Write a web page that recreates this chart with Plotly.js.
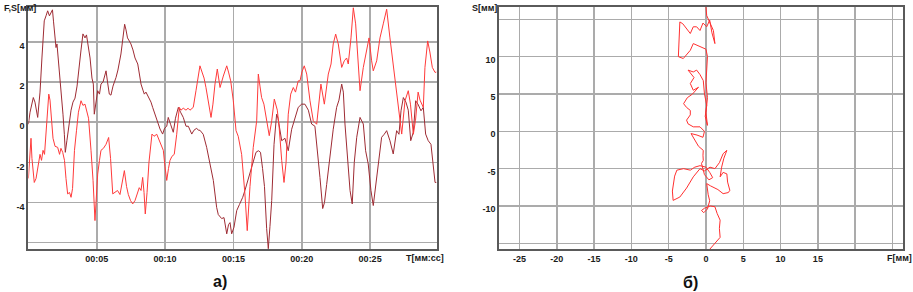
<!DOCTYPE html>
<html>
<head>
<meta charset="utf-8">
<script src="https://cdn.plot.ly/plotly-3.0.1.min.js"></script>
<style>html,body{margin:0;padding:0;background:#fff;}#chart{width:913px;height:292px;}</style>
</head>
<body>
<div id="chart"></div>
<script>
// Panel а): two time series [time s, value mm]
const seriesDark = [[0.0,-0.1],[0.12,0.5],[0.36,1.23],[0.48,1.0],[0.68,0.24],[0.85,1.5],[0.99,3.2],[1.16,5.05],[1.29,5.3],[1.41,5.55],[1.54,5.3],[1.65,5.5],[1.76,5.6],[1.84,5.0],[1.95,4.3],[2.02,3.72],[2.09,3.9],[2.20,3.0],[2.31,2.2],[2.44,1.42],[2.53,0.4],[2.63,-0.6],[2.70,-1.5],[2.82,-0.9],[2.97,-0.1],[3.12,0.6],[3.26,1.0],[3.41,1.2],[3.56,1.8],[3.70,2.8],[3.85,3.6],[3.99,4.4],[4.14,4.2],[4.25,4.35],[4.36,3.9],[4.51,3.2],[4.65,2.2],[4.75,1.9],[4.82,0.4],[4.95,1.0],[5.07,1.57],[5.20,1.4],[5.31,1.9],[5.46,2.0],[5.68,2.56],[5.79,2.0],[5.92,1.4],[6.04,1.35],[6.19,1.8],[6.41,2.23],[6.55,2.6],[6.77,3.4],[6.91,4.2],[7.04,4.88],[7.14,4.6],[7.25,4.2],[7.38,4.05],[7.50,3.9],[7.65,3.6],[7.80,3.2],[8.00,2.9],[8.13,2.4],[8.24,1.9],[8.38,1.6],[8.48,1.4],[8.60,1.5],[8.75,1.3],[8.84,1.23],[8.97,1.0],[9.09,0.74],[9.26,0.4],[9.46,-0.09],[9.63,-0.34],[9.82,-0.59],[9.96,-0.3],[10.12,-0.2],[10.23,0.24],[10.40,-0.1],[10.60,-0.5],[10.76,0.2],[10.97,0.74],[11.13,0.5],[11.33,0.24],[11.53,-0.2],[11.70,-0.2],[11.95,-0.59],[12.11,-0.4],[12.31,-0.3],[12.44,-0.4],[12.55,-0.4],[12.79,-0.6],[13.04,-1.25],[13.28,-2.08],[13.53,-2.9],[13.77,-4.24],[13.89,-4.6],[14.14,-4.8],[14.31,-4.75],[14.51,-5.56],[14.64,-5.1],[14.75,-5.0],[14.87,-5.56],[15.04,-5.23],[15.24,-4.4],[15.44,-4.1],[15.68,-3.74],[15.84,-3.4],[16.01,-3.0],[16.21,-2.6],[16.45,-1.9],[16.65,-1.5],[16.82,-1.42],[16.98,-1.5],[17.13,-2.3],[17.27,-3.2],[17.43,-5.3],[17.55,-6.3],[17.67,-5.2],[17.80,-3.9],[17.97,-1.1],[18.16,0.4],[18.26,0.2],[18.40,-0.5],[18.53,-0.92],[18.77,-0.8],[19.01,-1.42],[19.26,-0.35],[19.50,0.24],[19.74,0.74],[19.99,0.9],[20.23,0.9],[20.48,0.6],[20.72,-0.09],[20.96,-0.2],[21.16,-1.42],[21.33,-2.75],[21.53,-4.3],[21.66,-4.0],[21.82,-3.1],[22.06,-1.58],[22.30,-0.35],[22.55,0.74],[22.72,1.1],[22.92,1.9],[23.04,1.5],[23.16,-0.09],[23.36,-1.75],[23.53,-3.4],[23.69,-4.07],[23.84,-2.0],[24.02,-0.75],[24.26,0.24],[24.50,-0.09],[24.67,-1.42],[24.86,-2.08],[25.06,-3.4],[25.23,-4.15],[25.41,-3.1],[25.60,-1.9],[25.84,-0.75],[26.03,-0.6],[26.21,-0.42],[26.45,-0.92],[26.69,-1.58],[26.94,-0.42],[27.11,-0.6],[27.26,0.57],[27.43,1.23],[27.62,1.0],[27.79,0.6],[27.97,-0.92],[28.16,-0.5],[28.33,1.07],[28.50,0.9],[28.72,0.57],[28.89,0.74],[29.06,-0.59],[29.25,-0.92],[29.45,-1.1],[29.60,-2.25],[29.75,-3.0],[29.85,-3.0]];

const seriesBright = [[0.0,-2.8],[0.12,-1.5],[0.19,-0.8],[0.26,-1.8],[0.43,-3.0],[0.56,-2.8],[0.70,-2.2],[0.85,-1.6],[0.96,-1.9],[1.07,-1.4],[1.18,-1.6],[1.29,-0.5],[1.40,0.8],[1.49,1.4],[1.58,1.1],[1.69,0.2],[1.80,-0.8],[1.95,-1.2],[2.14,-1.25],[2.28,-1.6],[2.38,-1.3],[2.51,-1.5],[2.64,-1.9],[2.75,-2.8],[2.87,-3.57],[3.01,-3.5],[3.12,-3.74],[3.23,-3.3],[3.37,-1.4],[3.52,-0.4],[3.66,0.5],[3.85,1.07],[3.99,0.84],[4.14,0.9],[4.26,0.6],[4.40,0.2],[4.58,-1.4],[4.73,-2.9],[4.87,-4.9],[4.98,-3.5],[5.07,-2.58],[5.20,-1.9],[5.31,-1.4],[5.49,-1.3],[5.68,-1.1],[5.87,-0.76],[6.01,-1.8],[6.17,-3.57],[6.33,-3.5],[6.52,-3.4],[6.70,-3.6],[6.88,-2.8],[7.02,-2.41],[7.18,-3.2],[7.31,-3.6],[7.47,-3.9],[7.63,-4.07],[7.80,-3.9],[7.94,-3.6],[8.11,-3.26],[8.24,-3.4],[8.36,-2.75],[8.46,-3.5],[8.55,-4.57],[8.68,-3.5],[8.82,-2.0],[9.04,-0.59],[9.19,-0.7],[9.39,-0.6],[9.52,-0.8],[9.66,-1.0],[9.87,-1.4],[9.99,-2.2],[10.12,-2.9],[10.25,-2.3],[10.36,-1.9],[10.50,-1.7],[10.67,-1.6],[10.85,-0.6],[11.04,0.74],[11.16,0.6],[11.33,0.7],[11.53,0.6],[11.68,0.7],[11.82,0.6],[12.06,0.74],[12.26,1.57],[12.41,2.3],[12.55,2.81],[12.70,2.5],[12.85,2.2],[12.99,1.73],[13.17,1.0],[13.36,0.24],[13.50,0.9],[13.65,1.9],[13.82,2.65],[14.02,1.73],[14.26,2.3],[14.51,2.81],[14.64,2.5],[14.80,2.06],[14.99,1.07],[15.19,-0.42],[15.35,-0.7],[15.60,-1.6],[15.84,-3.57],[16.01,-5.4],[16.21,-3.2],[16.45,-1.25],[16.70,0.07],[16.82,2.4],[16.94,1.8],[17.06,1.23],[17.23,0.9],[17.43,0.07],[17.62,-0.67],[17.80,0.07],[17.99,1.15],[18.21,0.6],[18.35,-0.3],[18.53,-1.9],[18.70,-3.0],[18.85,-2.0],[19.01,0.4],[19.19,1.4],[19.38,1.73],[19.54,1.5],[19.74,2.06],[19.87,2.06],[20.01,2.5],[20.18,2.81],[20.36,2.4],[20.60,1.07],[20.84,0.07],[21.09,-0.1],[21.26,1.07],[21.40,1.9],[21.65,0.9],[21.82,1.9],[21.94,2.4],[22.14,2.9],[22.30,3.9],[22.48,4.39],[22.67,3.9],[22.92,2.73],[23.11,3.06],[23.28,3.2],[23.40,2.9],[23.60,4.2],[23.77,5.7],[23.94,4.9],[24.09,3.06],[24.26,1.57],[24.50,2.73],[24.75,3.56],[24.92,4.2],[25.11,3.06],[25.23,2.56],[25.48,3.06],[25.72,4.2],[25.96,4.9],[26.21,5.63],[26.45,4.2],[26.69,2.9],[26.94,1.4],[27.18,0.07],[27.31,-0.59],[27.55,1.07],[27.79,1.57],[27.95,0.9],[28.16,-0.6],[28.32,0.1],[28.51,1.5],[28.65,1.1],[28.89,0.74],[29.01,2.73],[29.21,4.05],[29.37,3.5],[29.55,2.73],[29.75,2.48],[29.85,2.5]];

// Panel б): trajectory [F mm, S mm]
const trajectory = [[0.5,-15.8],[1.0,-15.2],[1.3,-14.8],[1.9,-14.2],[1.8,-13.0],[1.9,-11.9],[1.5,-11.0],[1.2,-10.1],[0.6,-10.0],[-0.2,-10.3],[-0.6,-10.6],[-0.3,-10.9],[0.2,-10.4],[0.5,-9.3],[0.3,-8.5],[0.1,-7.0],[0.6,-7.3],[1.0,-7.5],[1.6,-7.8],[2.3,-8.35],[3.0,-8.2],[3.2,-7.9],[2.9,-6.8],[2.8,-5.7],[2.3,-5.5],[1.9,-6.1],[2.1,-4.8],[2.4,-3.6],[2.8,-2.55],[2.3,-3.0],[1.8,-4.2],[1.2,-5.0],[0.54,-4.8],[-0.2,-5.3],[-0.8,-5.0],[-1.7,-6.1],[-2.6,-7.6],[-3.5,-8.8],[-4.4,-9.25],[-4.5,-8.0],[-4.2,-6.0],[-3.9,-5.2],[-3.0,-5.0],[-2.1,-5.2],[-1.5,-4.8],[-0.8,-4.6],[0.0,-4.8],[0.5,-5.5],[0.9,-6.2],[0.4,-6.5],[-0.2,-5.8],[-0.6,-4.3],[-0.36,-3.9],[-0.4,-3.2],[-0.36,-2.55],[-1.0,-2.0],[-1.6,-1.0],[-2.0,-0.3],[-1.2,-0.5],[-0.4,-0.8],[-0.2,0.0],[-0.8,0.6],[-1.7,0.6],[-2.4,1.0],[-2.6,1.5],[-2.1,2.2],[-2.1,2.8],[-2.6,3.2],[-3.0,3.7],[-2.5,4.5],[-1.8,5.0],[-1.0,5.9],[-1.7,5.5],[-2.1,6.4],[-1.6,7.2],[-2.4,8.2],[-1.7,7.95],[-1.25,8.2],[-0.8,7.6],[-0.36,6.8],[-0.2,5.0],[0.1,3.5],[-0.1,2.0],[0.2,0.8],[0.0,2.5],[0.2,4.5],[0.0,6.5],[0.1,8.6],[0.2,10.0],[0.0,11.0],[-0.6,11.3],[-1.2,11.6],[-1.7,11.75],[-2.1,10.85],[-3.04,9.75],[-3.7,10.0],[-3.6,12.5],[-3.5,14.65],[-3.1,14.4],[-2.1,13.1],[-1.7,14.0],[-1.25,14.0],[-0.8,13.5],[-0.4,14.5],[0.1,14.0],[0.5,14.9],[0.8,13.2],[1.2,11.75],[1.0,13.5],[0.5,14.5],[0.1,15.5],[0.0,16.7]];

const timeTicks = [5, 10, 15, 20, 25];
const timeTickLabels = ['00:05', '00:10', '00:15', '00:20', '00:25'];
const leftYTicks = [-6, -4, -2, 0, 2, 4];
const leftYLabels = ['', '-4', '-2', '0', '2', '4'];
const rightXTicks = [-25, -20, -15, -10, -5, 0, 5, 10, 15, 20, 25];
const rightXLabels = ['-25', '-20', '-15', '-10', '-5', '0', '5', '10', '15', '', ''];
const rightYTicks = [-15, -10, -5, 0, 5, 10, 15];
const rightYLabels = ['', '-10', '-5', '0', '5', '10', ''];

const W = 913, H = 292;
const px = v => v / W;
const py = v => (H - v) / H;

const tickFont = {family: 'Arial, "Liberation Sans", sans-serif', size: 9, color: '#1a1a1a', weight: 'bold'};
const axisCommon = {
  showgrid: true, gridcolor: '#ababab', gridwidth: 1.5,
  zeroline: false, showline: true, mirror: true, linecolor: '#5a5a5a', linewidth: 2,
  ticks: '', tickfont: tickFont, tickmode: 'array', fixedrange: true
};

const traces = [
  {x: seriesDark.map(p => p[0]), y: seriesDark.map(p => p[1]), type: 'scatter', mode: 'lines',
   line: {color: '#9e2b33', width: 1}, xaxis: 'x', yaxis: 'y', hoverinfo: 'skip'},
  {x: seriesBright.map(p => p[0]), y: seriesBright.map(p => p[1]), type: 'scatter', mode: 'lines',
   line: {color: '#ff3a3a', width: 1}, xaxis: 'x', yaxis: 'y', hoverinfo: 'skip'},
  {x: trajectory.map(p => p[0]), y: trajectory.map(p => p[1]), type: 'scatter', mode: 'lines',
   line: {color: '#ff3030', width: 1}, xaxis: 'x2', yaxis: 'y2', hoverinfo: 'skip'}
];

const labelFont = {family: 'Arial, "Liberation Sans", sans-serif', size: 9, color: '#1a1a1a', weight: 'bold'};
const capFont = {family: 'Arial, "Liberation Sans", sans-serif', size: 16, color: '#111', weight: 'bold'};

const layout = {
  width: W, height: H,
  margin: {l: 0, r: 0, t: 0, b: 0},
  paper_bgcolor: '#fff', plot_bgcolor: '#fff',
  showlegend: false,
  xaxis: Object.assign({}, axisCommon, {domain: [px(28.4), px(436.7)], range: [0, 29.87],
    tickvals: timeTicks, ticktext: timeTickLabels, anchor: 'y'}),
  yaxis: Object.assign({}, axisCommon, {domain: [py(249.3), py(7)], range: [-6.33, 5.74],
    tickvals: leftYTicks, ticktext: leftYLabels, anchor: 'x', ticklabelshift: 4}),
  xaxis2: Object.assign({}, axisCommon, {domain: [px(499.3), px(903.3)], range: [-27.7, 26.45],
    tickvals: rightXTicks, ticktext: rightXLabels, anchor: 'y2'}),
  yaxis2: Object.assign({}, axisCommon, {domain: [py(249.3), py(7)], range: [-15.8, 16.65],
    tickvals: rightYTicks, ticktext: rightYLabels, anchor: 'x2', ticklabelshift: 3}),
  annotations: [
    {text: 'F,S[мм]', xref: 'paper', yref: 'paper', x: px(2), y: py(7.5), xanchor: 'left', yanchor: 'middle', showarrow: false, font: labelFont},
    {text: 'T[мм:сс]', xref: 'paper', yref: 'paper', x: px(404), y: py(257.5), xanchor: 'left', yanchor: 'middle', showarrow: false, font: labelFont},
    {text: 'S[мм]', xref: 'paper', yref: 'paper', x: px(499), y: py(7.5), xanchor: 'right', yanchor: 'middle', showarrow: false, font: labelFont},
    {text: 'F[мм]', xref: 'paper', yref: 'paper', x: px(885), y: py(258), xanchor: 'left', yanchor: 'middle', showarrow: false, font: labelFont},
    {text: 'а)', xref: 'paper', yref: 'paper', x: px(220), y: py(281.5), xanchor: 'center', yanchor: 'middle', showarrow: false, font: capFont},
    {text: 'б)', xref: 'paper', yref: 'paper', x: px(690), y: py(282), xanchor: 'center', yanchor: 'middle', showarrow: false, font: capFont}
  ]
};

Plotly.newPlot('chart', traces, layout, {staticPlot: true, displayModeBar: false});
</script>
</body>
</html>
